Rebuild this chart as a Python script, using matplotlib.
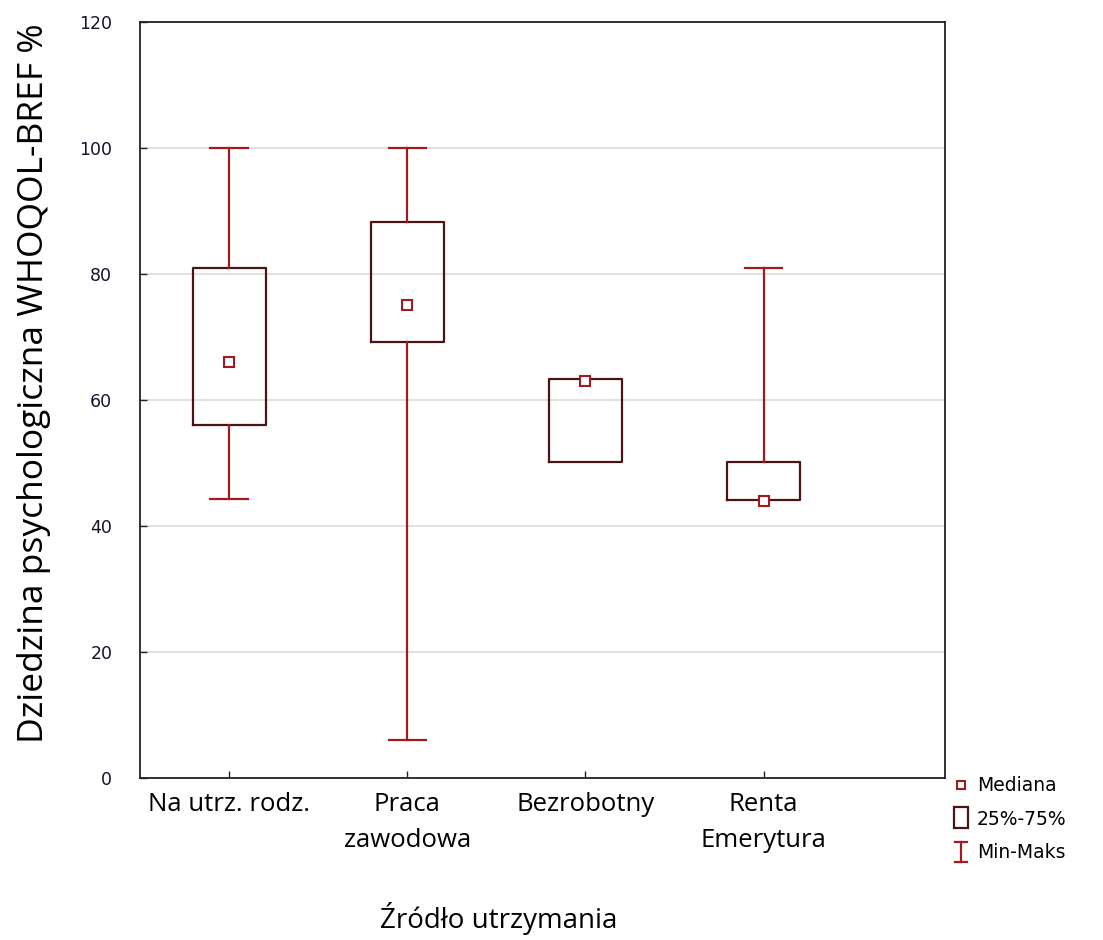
import matplotlib
matplotlib.use("Agg")
import matplotlib.pyplot as plt
from matplotlib.lines import Line2D
from matplotlib.patches import Rectangle
from matplotlib.legend_handler import HandlerBase

# Source of income groups and summary statistics
categories = ["Na utrz. rodz.", "Praca\nzawodowa", "Bezrobotny", "Renta\nEmerytura"]
medians = [66, 75, 63, 44]
q1 = [56, 69.2, 50.2, 44.1]
q3 = [81, 88.3, 63.3, 50.2]
mins = [44.3, 6, 50.2, 44.1]
maxs = [100, 100, 63.3, 81]
yticks = [0, 20, 40, 60, 80, 100, 120]

WHISK = "#a11a1f"
BOXC = "#4a1416"

fig = plt.figure(figsize=(11.03, 9.40), dpi=100)
ax = fig.add_axes([0.127, 0.172, 0.730, 0.805])

stats = []
for i in range(len(categories)):
    stats.append(dict(med=medians[i], q1=q1[i], q3=q3[i],
                      whislo=mins[i], whishi=maxs[i], label=categories[i]))

pos = list(range(len(categories)))
bp = ax.bxp(stats, positions=pos, widths=0.41, showfliers=False,
            boxprops=dict(color=BOXC, linewidth=1.6),
            whiskerprops=dict(color=WHISK, linewidth=1.6),
            capprops=dict(color=WHISK, linewidth=1.6),
            medianprops=dict(visible=False),
            capwidths=0.21)

# hide caps where whisker collapses onto the box
for i in range(len(categories)):
    if mins[i] >= q1[i]:
        bp["caps"][2 * i].set_visible(False)
    if maxs[i] <= q3[i]:
        bp["caps"][2 * i + 1].set_visible(False)

ax.plot(pos, medians, linestyle="none", marker="s", markersize=7,
        markerfacecolor="white", markeredgecolor=WHISK, markeredgewidth=1.5, zorder=5)

ax.set_xlim(-0.5, 4.02)
ax.set_ylim(0, 120)
ax.set_yticks(yticks)
ax.set_yticklabels([str(t) for t in yticks], fontsize=12.5, color="#1a1030")
ax.set_xticks(pos)
ax.set_xticklabels(categories, fontsize=18.5, family=["Open Sans"],
                   linespacing=1.55, va="top")
ax.tick_params(axis="both", direction="in", length=5, width=1, color="#222222")
ax.tick_params(axis="y", pad=20)
ax.tick_params(axis="x", pad=10)

ax.yaxis.grid(True, color="#dcdcdc", linewidth=1.2)
ax.set_axisbelow(True)
for s in ax.spines.values():
    s.set_linewidth(1.3)
    s.set_color("#222222")

ax.set_ylabel("Dziedzina psychologiczna WHOQOL-BREF %", fontsize=25.5,
              family=["Open Sans"])
ax.yaxis.set_label_coords(-0.111, 0.522)
ax.set_xlabel("Źródło utrzymania", fontsize=20, family=["Open Sans"])
ax.xaxis.set_label_coords(0.445, -0.163)


class IBeamHandler(HandlerBase):
    def create_artists(self, legend, orig_handle, xd, yd, width, height, fontsize, trans):
        cx = xd + width / 2
        w = width * 0.3
        top = yd + height * 1.15
        bot = yd - height * 0.35
        arts = [Line2D([cx, cx], [bot, top], color=WHISK, lw=1.6),
                Line2D([cx - w, cx + w], [top, top], color=WHISK, lw=1.6),
                Line2D([cx - w, cx + w], [bot, bot], color=WHISK, lw=1.6)]
        for a in arts:
            a.set_transform(trans)
        return arts


class BoxHandler(HandlerBase):
    def create_artists(self, legend, orig_handle, xd, yd, width, height, fontsize, trans):
        cx = xd + width / 2
        w = width * 0.65
        r = Rectangle((cx - w / 2, yd - height * 0.3), w, height * 1.6,
                      facecolor="white", edgecolor=BOXC, lw=1.6, transform=trans)
        return [r]


h_med = Line2D([], [], linestyle="none", marker="s", markersize=6,
               markerfacecolor="white", markeredgecolor=WHISK, markeredgewidth=1.5)
h_box = Rectangle((0, 0), 1, 1)
h_rng = Line2D([], [])
fig.legend([h_med, h_box, h_rng], ["Mediana", "25%-75%", "Min-Maks"],
           handler_map={Rectangle: BoxHandler(), h_rng: IBeamHandler()},
           loc="upper left", bbox_to_anchor=(0.862, 0.174), frameon=False,
           prop=dict(size=13.5, family="DejaVu Sans"),
           handlelength=1.1, handletextpad=0.3, labelspacing=0.75,
           borderpad=0, borderaxespad=0)

fig.savefig("out.png", dpi=100, facecolor="white")
